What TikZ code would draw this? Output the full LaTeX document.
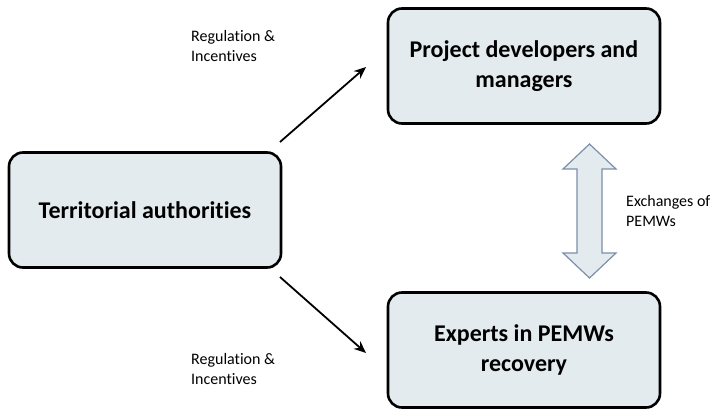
\documentclass[tikz,border=0pt]{standalone}
\usepackage{fontspec}
\setmainfont{Carlito}[Ligatures=NoCommon]
\usetikzlibrary{arrows.meta}
\definecolor{boxfill}{HTML}{E3EBEE}
\definecolor{arrowedge}{HTML}{7D8FA8}
\tikzset{
  actor/.style={draw=black, line width=2.6pt, rounded corners=14pt, fill=boxfill,
    minimum width=272pt, minimum height=115pt, align=center,
    font=\fontsize{24}{30}\selectfont\bfseries, inner sep=0pt},
  lbl/.style={align=left, font=\fontsize{16}{19.5}\selectfont, inner sep=0pt, anchor=west},
  flow/.style={-{Stealth[length=12pt,width=10pt]}, line width=1.8pt},
  exch/.style={draw=arrowedge, line width=1.2pt, fill=boxfill, line join=miter}
}
\begin{document}
\begin{tikzpicture}[x=1pt,y=-1pt]
\useasboundingbox (0,0) rectangle (715,410);
\node[actor] (ta) at (145,210) {Territorial authorities};
\node[actor] (pd) at (524,66) {Project developers and\\managers};
\node[actor] (ex) at (524,350) {Experts in PEMWs\\recovery};
\coordinate (a1s) at (280,142);
\coordinate (a1e) at (366,67);
\coordinate (a2s) at (280,277);
\coordinate (a2e) at (366,353);
\draw[flow] (a1s) -- (a1e);
\draw[flow] (a2s) -- (a2e);
\node[lbl] (l1) at (191,46) {Regulation \&\\Incentives};
\node[lbl] (l2) at (191,369) {Regulation \&\\Incentives};
\node[lbl] (l3) at (626,211) {Exchanges of\\PEMWs};
\draw[exch] (589.5,144) -- (616,169) -- (602,169) -- (602,253) -- (616,253)
  -- (589.5,278) -- (563,253) -- (577,253) -- (577,169) -- (563,169) -- cycle;
\end{tikzpicture}
\end{document}
